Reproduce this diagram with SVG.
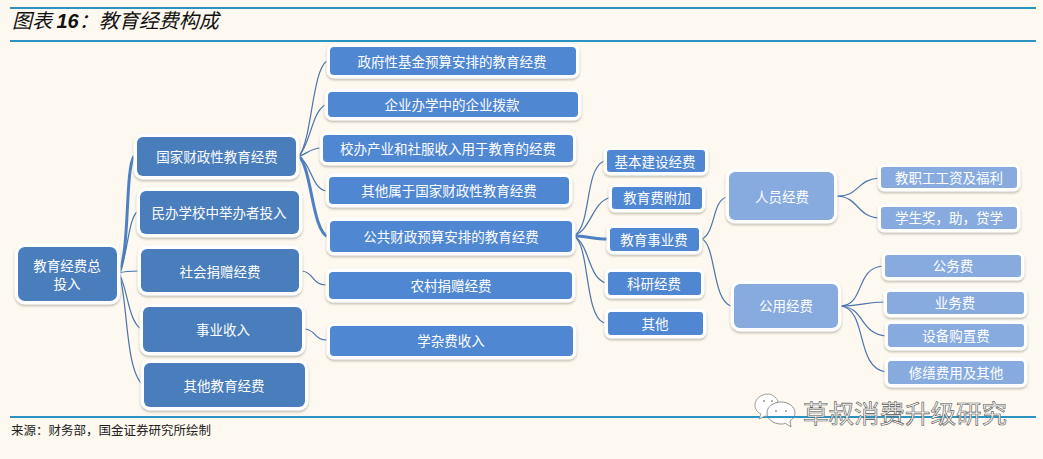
<svg xmlns="http://www.w3.org/2000/svg" width="1043" height="459" viewBox="0 0 1043 459">
<style>
text{font-family:"Noto Sans CJK SC","Liberation Sans",sans-serif}
.n rect{stroke:#fff;stroke-width:7;paint-order:stroke;filter:url(#sh)}
.n text{fill:#fff;font-size:13.5px;text-anchor:middle;dominant-baseline:central}
.d rect{fill:#4a7dbb}
.m rect{fill:#5087d2}
.l rect{fill:#87abdf}
.r{stroke:#2b93c2;stroke-width:2;fill:none}
#connectors path{fill:none;stroke:#4a74ac;stroke-width:1.2}
#connectors path.t{stroke:#4e80c4;stroke-width:3}
</style>
<defs>
<filter id="sh" x="-10%" y="-20%" width="120%" height="150%"><feDropShadow dx="0" dy="1.5" stdDeviation="1.2" flood-color="#8a8478" flood-opacity="0.55"/></filter>
</defs>
<rect width="1043" height="459" fill="#fdf9f0"/>
<g id="frame">
<line class="r" x1="10" y1="8" x2="1036" y2="8"/>
<line class="r" x1="10" y1="41" x2="1036" y2="41"/>
<line class="r" x1="10" y1="417" x2="1036" y2="417"/>
</g>
<g id="title"><text x="12" y="28" font-size="20" font-style="italic" fill="#111">图表 <tspan font-family="Liberation Sans" font-weight="bold">16</tspan>：教育经费构成</text></g>
<g id="connectors">
<path class="t" d="M119 273C130 250 125 170 134 156"/>
<path d="M119 273C128 255 128 220 137 212"/>
<path d="M119 273C125 271 132 271 139 271"/>
<path d="M119 273C128 290 128 320 141 329"/>
<path d="M119 273C128 300 125 370 143 385"/>
<path d="M299 156C312 140 312 70 327 61"/>
<path d="M299 156C310 145 312 112 325 105"/>
<path d="M299 156C306 155 310 148 321 148"/>
<path d="M299 156C312 165 312 190 327 191"/>
<path class="t" d="M299 156C312 170 312 230 328 237"/>
<path d="M302 271C314 272 312 285 326 285"/>
<path d="M305 329C316 330 314 340 327 340"/>
<path d="M574 236C592 225 584 170 604 161"/>
<path d="M574 236C592 228 592 203 609 198"/>
<path class="t" d="M574 236C585 236 595 239 607 239"/>
<path d="M574 236C590 245 588 278 606 283"/>
<path d="M574 236C590 245 584 315 604 323"/>
<path d="M702 239C716 232 712 200 727 197"/>
<path d="M702 239C716 245 712 300 731 306"/>
<path d="M836 196C860 197 855 180 879 178"/>
<path d="M836 196C860 197 855 216 879 218"/>
<path d="M841 306C865 305 855 268 883 266"/>
<path d="M841 306C860 306 865 302 885 302"/>
<path d="M841 306C865 308 860 334 886 336"/>
<path d="M841 306C868 310 855 368 886 372"/>
</g>
<g id="n0" class="n d"><rect x="18" y="247" width="99" height="54" rx="7"/><text x="67" y="265">教育经费总</text><text x="67" y="283">投入</text></g>
<g id="n1" class="n d"><rect x="137" y="137" width="159" height="39" rx="6"/><text x="217" y="156">国家财政性教育经费</text></g>
<g id="n2" class="n d"><rect x="140" y="191" width="159" height="43" rx="6"/><text x="219" y="212">民办学校中举办者投入</text></g>
<g id="n3" class="n d"><rect x="141" y="249" width="158" height="43" rx="6"/><text x="220" y="271">社会捐赠经费</text></g>
<g id="n4" class="n d"><rect x="143" y="307" width="159" height="45" rx="6"/><text x="223" y="329">事业收入</text></g>
<g id="n5" class="n d"><rect x="144" y="363" width="161" height="44" rx="6"/><text x="224" y="385">其他教育经费</text></g>
<g id="m1" class="n m"><rect x="330" y="47" width="246" height="28" rx="4"/><text x="452" y="61">政府性基金预算安排的教育经费</text></g>
<g id="m2" class="n m"><rect x="328" y="92" width="250" height="25" rx="4"/><text x="452" y="104">企业办学中的企业拨款</text></g>
<g id="m3" class="n m"><rect x="323" y="135" width="250" height="27" rx="4"/><text x="448" y="148">校办产业和社服收入用于教育的经费</text></g>
<g id="m4" class="n m"><rect x="329" y="177" width="240" height="27" rx="4"/><text x="449" y="190">其他属于国家财政性教育经费</text></g>
<g id="m5" class="n m"><rect x="330" y="221" width="242" height="31" rx="4"/><text x="451" y="236">公共财政预算安排的教育经费</text></g>
<g id="m6" class="n m"><rect x="329" y="272" width="243" height="27" rx="4"/><text x="451" y="285">农村捐赠经费</text></g>
<g id="m7" class="n m"><rect x="330" y="326" width="243" height="30" rx="4"/><text x="451" y="340">学杂费收入</text></g>
<g id="c1" class="n m"><rect x="607" y="150" width="98" height="22" rx="3"/><text x="655" y="161">基本建设经费</text></g>
<g id="c2" class="n m"><rect x="612" y="187" width="90" height="22" rx="3"/><text x="657" y="197">教育费附加</text></g>
<g id="c3" class="n m"><rect x="610" y="228" width="89" height="23" rx="3"/><text x="654" y="239">教育事业费</text></g>
<g id="c4" class="n m"><rect x="608" y="272" width="93" height="23" rx="3"/><text x="654" y="283">科研经费</text></g>
<g id="c5" class="n m"><rect x="608" y="312" width="95" height="23" rx="3"/><text x="655" y="323">其他</text></g>
<g id="p1" class="n l"><rect x="729" y="172" width="105" height="48" rx="6"/><text x="782" y="196">人员经费</text></g>
<g id="p2" class="n l"><rect x="734" y="284" width="104" height="44" rx="6"/><text x="786" y="305">公用经费</text></g>
<g id="q1" class="n l"><rect x="881" y="167" width="136" height="21" rx="3"/><text x="949" y="177">教职工工资及福利</text></g>
<g id="q2" class="n l"><rect x="881" y="207" width="136" height="22" rx="3"/><text x="949" y="217">学生奖，助，贷学</text></g>
<g id="q3" class="n l"><rect x="885" y="255" width="136" height="22" rx="3"/><text x="953" y="265">公务费</text></g>
<g id="q4" class="n l"><rect x="887" y="292" width="137" height="22" rx="3"/><text x="955" y="302">业务费</text></g>
<g id="q5" class="n l"><rect x="888" y="324" width="136" height="23" rx="3"/><text x="956" y="335">设备购置费</text></g>
<g id="q6" class="n l"><rect x="888" y="361" width="136" height="23" rx="3"/><text x="956" y="372">修缮费用及其他</text></g>
<g id="source"><text x="11" y="435" font-size="12.5" fill="#222">来源：财务部，国金证券研究所绘制</text></g>
<g id="watermark">
<path d="M768 394c-7 0-13 5-13 11 0 4 2 7 6 9l-2 5 6-3c2 0 3 1 5 1l8-16c-2-4-6-7-10-7z" fill="#fff" stroke="#888" stroke-width="0.8"/>
<path d="M781 402c-8 0-14 5-14 11s6 11 14 11c2 0 3 0 4 -1l6 4-1-6c3-2 5-5 5-8 0-6-6-11-14-11z" fill="#fff" stroke="#777" stroke-width="0.8"/>
<circle cx="764" cy="401" r="1" fill="#999"/><circle cx="772" cy="401" r="1" fill="#999"/><circle cx="776" cy="411" r="1" fill="#999"/><circle cx="786" cy="411" r="1" fill="#999"/>
<line class="r" x1="767" y1="417" x2="795" y2="417"/>
<text x="803" y="423" font-size="25.5" fill="#f4f4f4" stroke="#555" stroke-width="0.6">草叔消费升级研究</text>
</g>
</svg>
